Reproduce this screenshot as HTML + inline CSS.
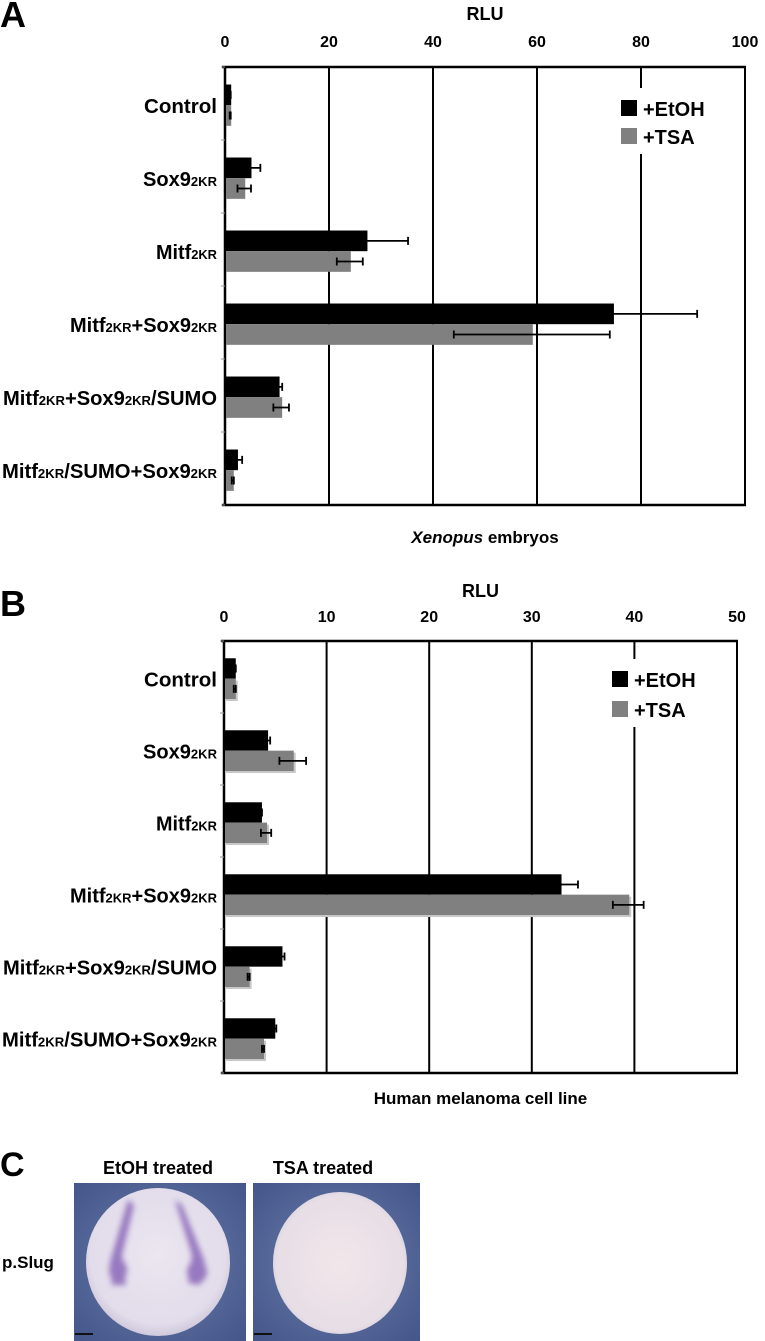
<!DOCTYPE html>
<html><head><meta charset="utf-8"><style>
html,body{margin:0;padding:0;background:#fff;}
svg{display:block;font-family:"Liberation Sans",sans-serif;}
</style></head><body>
<svg width="765" height="1341" viewBox="0 0 765 1341">
<defs>
<radialGradient id="bgL" cx="50%" cy="50%" r="70%"><stop offset="0" stop-color="#6b7cab"/><stop offset="1" stop-color="#44568a"/></radialGradient>
<radialGradient id="emb1" cx="50%" cy="45%" r="55%"><stop offset="0" stop-color="#ece6f0"/><stop offset="0.85" stop-color="#e2dceb"/><stop offset="1" stop-color="#cfc9dc"/></radialGradient>
<radialGradient id="emb2" cx="50%" cy="50%" r="55%"><stop offset="0" stop-color="#f1e7ea"/><stop offset="0.85" stop-color="#e7dee6"/><stop offset="1" stop-color="#d5cfdd"/></radialGradient>
<filter id="blur"><feGaussianBlur stdDeviation="3"/></filter>
</defs>
<g id="chartA"></g>
<g id="chartB"></g>

<g>
<text x="0" y="1176" font-size="34" font-weight="bold">C</text>
<text x="158" y="1174" font-size="18" font-weight="bold" text-anchor="middle">EtOH treated</text>
<text x="323" y="1174" font-size="18" font-weight="bold" text-anchor="middle">TSA treated</text>
<text x="2" y="1268" font-size="17" font-weight="bold">p.Slug</text>
<g>
<rect x="74" y="1183" width="172" height="158" fill="url(#bgL)"/>
<ellipse cx="158" cy="1262" rx="72" ry="74" fill="url(#emb1)"/>
<g filter="url(#blur)" fill="#8a68b8" opacity="0.85">
<path d="M128 1200 L134 1205 L122 1255 L126 1285 L112 1285 L110 1262 Z"/>
<path d="M175 1200 L182 1205 L205 1262 L200 1285 L188 1283 L192 1255 Z"/>
<ellipse cx="118" cy="1270" rx="9" ry="11"/>
<ellipse cx="197" cy="1272" rx="10" ry="11"/>
</g>
<rect x="75" y="1333" width="18" height="2" fill="#111"/>
</g>
<g>
<rect x="253" y="1183" width="167" height="158" fill="url(#bgL)"/>
<ellipse cx="340" cy="1263" rx="67" ry="71" fill="url(#emb2)"/>
<rect x="254" y="1333" width="18" height="2" fill="#111"/>
</g>
</g>

<script>
const categories = ["Control","Sox9|2KR","Mitf|2KR","Mitf|2KR|+Sox9|2KR","Mitf|2KR|+Sox9|2KR|/SUMO","Mitf|2KR|/SUMO+Sox9|2KR"];
const labelWidths = [73, 74, 61, 147, 214, 215];
const aEtoh = [1.0, 4.9, 27.2, 74.6, 10.3, 2.3];
const aEtohErr = [0.1, 1.9, 8.0, 16.2, 0.7, 1.0];
const aTsa = [1.0, 3.7, 24.0, 59.0, 10.8, 1.5];
const aTsaErr = [0.1, 1.3, 2.5, 15.0, 1.5, 0.2];
const aTicks = [0, 20, 40, 60, 80, 100];
const bEtoh = [1.05, 4.2, 3.6, 32.8, 5.6, 4.9];
const bEtohErr = [0.1, 0.3, 0.1, 1.7, 0.3, 0.2];
const bTsa = [1.05, 6.7, 4.1, 39.4, 2.4, 3.8];
const bTsaErr = [0.1, 1.3, 0.5, 1.5, 0.1, 0.1];
const bTicks = [0, 10, 20, 30, 40, 50];
const NS = "http://www.w3.org/2000/svg";
function mk(p, tag, attrs){const e=document.createElementNS(NS,tag);for(const k in attrs)e.setAttribute(k,attrs[k]);p.appendChild(e);return e;}
function draw(g, cfg){
  const {x0,x1,y0,y1,max,ticks,etoh,etohErr,tsa,tsaErr,letter,letterY,rluY,tickY,title,titleY,legX,legY,legGap,shadow}=cfg;
  const sx=v=>x0+(x1-x0)*v/max;
  const band=(y1-y0)/categories.length;
  let t=mk(g,'text',{x:0,y:letterY,'font-size':36,'font-weight':'bold'});t.textContent=letter;
  
  
  t=mk(g,'text',{x:(x0+x1)/2,y:rluY,'font-size':18,'font-weight':'bold','text-anchor':'middle'});t.textContent='RLU';
  
  
  ticks.forEach((v,i)=>{
    const tt=mk(g,'text',{x:sx(v),y:tickY,'font-size':16,'font-weight':'bold','text-anchor':'middle'});tt.textContent=v;
    
    
    if(i>0){const l=mk(g,'line',{x1:sx(v),x2:sx(v),y1:y0,y2:y1,stroke:'#000','stroke-width':2});
      
      }
  });
  let ax=mk(g,'line',{x1:x0-3,x2:x1+1,y1:y0,y2:y0,stroke:'#000','stroke-width':2.5});
  
  
  ax=mk(g,'line',{x1:x0-3,x2:x1+1,y1:y1,y2:y1,stroke:'#000','stroke-width':2.5});
  
  
  ax=mk(g,'line',{x1:x0,x2:x0,y1:y0,y2:y1,stroke:'#000','stroke-width':2.5});
  
  
  for(let i=0;i<=categories.length;i++){const tk=mk(g,'line',{x1:x0-4,x2:x0,y1:y0+band*i,y2:y0+band*i,stroke:'#999','stroke-width':1});
    
    }
  const bh=band*0.283;
  categories.forEach((c,i)=>{
    const top=y0+band*i+band*0.24;
    const mid=top+bh;
    [[etoh,etohErr,'#000',top,'etoh'],[tsa,tsaErr,'#808080',mid,'tsa']].forEach(([vals,errs,col,y,nm])=>{
      if(shadow && nm==='tsa'){const s=mk(g,'rect',{x:x0+1,y:y+2,width:sx(vals[i])-x0+2,height:bh,fill:'#c8c8c8'});
        
        }
      const r=mk(g,'rect',{x:x0+1,y:y,width:sx(vals[i])-x0,height:bh,fill:col});
      
      
      const cy=y+bh/2,a=sx(vals[i]-errs[i]),b=sx(vals[i]+errs[i]);
      const e=mk(g,'path',{d:`M${a} ${cy}H${b}M${a} ${cy-4}V${cy+4}M${b} ${cy-4}V${cy+4}`,stroke:'#000','stroke-width':1.8,fill:'none'});
      
      
    });
    const parts=c.split('|');
    const lt=mk(g,'text',{x:217,y:mid+8,'font-size':20,'font-weight':'bold','text-anchor':'end',textLength:labelWidths[i],lengthAdjust:'spacingAndGlyphs'});
    
    
    parts.forEach((p,k)=>{const s=mk(lt,'tspan',{});s.textContent=p;if(k%2===1){s.setAttribute('font-size','13');}});
  });
  const lb=mk(g,'rect',{x:legX-6,y:legY-12,width:100,height:legGap+38,fill:'#fff'});
  
  
  [['+EtOH','#000'],['+TSA','#808080']].forEach(([n,col],k)=>{
    const yy=legY+k*legGap;
    const sq=mk(g,'rect',{x:legX,y:yy,width:16,height:16,fill:col});
    
    
    const lt=mk(g,'text',{x:legX+22,y:yy+16,'font-size':20,'font-weight':'bold'});lt.textContent=n;
    
    
  });
  const tt=mk(g,'text',{x:(x0+x1)/2,y:titleY,'font-size':17,'font-weight':'bold','text-anchor':'middle'});
  
  
  if(title==='X'){const s=mk(tt,'tspan',{'font-style':'italic'});s.textContent='Xenopus';const s2=mk(tt,'tspan',{});s2.textContent=' embryos';}
  else tt.textContent=title;
}
draw(document.getElementById('chartA'),{x0:225,x1:745,y0:67,y1:505,max:100,ticks:aTicks,etoh:aEtoh,etohErr:aEtohErr,tsa:aTsa,tsaErr:aTsaErr,letter:'A',letterY:27,rluY:20,tickY:47,title:'X',titleY:543,legX:621,legY:100,legGap:28,shadow:false});
draw(document.getElementById('chartB'),{x0:224,x1:737,y0:641,y1:1073,max:50,ticks:bTicks,etoh:bEtoh,etohErr:bEtohErr,tsa:bTsa,tsaErr:bTsaErr,letter:'B',letterY:616,rluY:597,tickY:622,title:'Human melanoma cell line',titleY:1104,legX:612,legY:671,legGap:30,shadow:true});
</script>
</svg>
</body></html>
